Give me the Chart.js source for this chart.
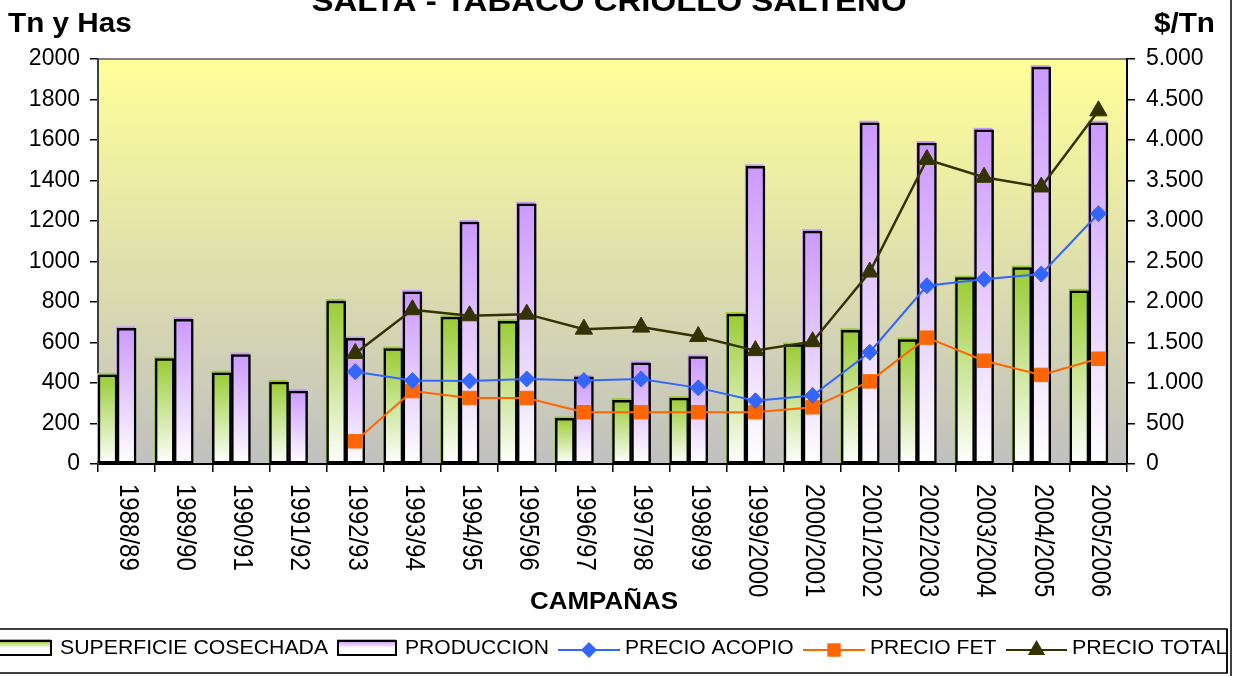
<!DOCTYPE html>
<html>
<head>
<meta charset="utf-8">
<script src="https://cdn.jsdelivr.net/npm/chart.js@4.4.1/dist/chart.umd.min.js"></script>
<style>
  html, body { margin: 0; padding: 0; background: #fff; overflow: hidden; }
  canvas { display: block; }
</style>
</head>
<body>
<canvas id="chart" width="1239" height="676"></canvas>
<script>
// datos
const campanas = ['1988/89', '1989/90', '1990/91', '1991/92', '1992/93', '1993/94', '1994/95', '1995/96',
  '1996/97', '1997/98', '1998/99', '1999/2000', '2000/2001', '2001/2002', '2002/2003', '2003/2004',
  '2004/2005', '2005/2006'];
const superficie = [440, 520, 450, 405, 805, 570, 725, 705, 225, 315, 325, 740, 590, 660, 615, 920, 970, 855];
const produccion = [670, 715, 540, 360, 620, 850, 1195, 1285, 430, 500, 530, 1470, 1150, 1685, 1585, 1650, 1960, 1685];
const precioAcopio = [null, null, null, null, 1140, 1030, 1025, 1050, 1030, 1050, 940, 780, 845, 1380, 2200, 2280, 2345, 3090];
const precioFet = [null, null, null, null, 280, 900, 815, 815, 640, 640, 640, 640, 700, 1020, 1560, 1275, 1100, 1300];
const precioTotal = [null, null, null, null, 1365, 1905, 1830, 1850, 1665, 1690, 1575, 1400, 1510, 2370, 3760, 3540, 3420, 4360];
// hueco vacio a la derecha de cada par de barras
const spacer = campanas.map(() => null);

const FONT = '"Liberation Sans", Arial, sans-serif';
const GREEN = '#99CC33', PURPLE = '#CC99FF', BLUE = '#3366FF', ORANGE = '#FF6600', OLIVE = '#333300';

function drawText(ctx, s, x, y, size, bold, align, sx) {
  ctx.save();
  ctx.font = (bold ? 'bold ' : '') + size + 'px ' + FONT;
  ctx.textAlign = align;
  ctx.textBaseline = 'alphabetic';
  ctx.fillStyle = '#000';
  ctx.translate(x, y);
  ctx.scale(sx, 1);
  ctx.fillText(s, 0, 0);
  ctx.restore();
}

function barGradient(top) {
  return (c) => {
    const chart = c.chart;
    const area = chart.chartArea;
    if (!area || c.raw == null) return top;
    const y = chart.scales.y.getPixelForValue(c.raw);
    const g = chart.ctx.createLinearGradient(0, y, 0, area.bottom);
    g.addColorStop(0, top);
    g.addColorStop(1, '#ffffff');
    return g;
  };
}

function marker(ctx, style, x, y, r, color) {
  ctx.fillStyle = color;
  ctx.beginPath();
  if (style === 'rectRot') {
    ctx.moveTo(x - r, y); ctx.lineTo(x, y - r); ctx.lineTo(x + r, y); ctx.lineTo(x, y + r);
  } else if (style === 'rect') {
    const s = r * Math.SQRT1_2;
    ctx.rect(x - s, y - s, 2 * s, 2 * s);
  } else {
    for (let k = 0; k < 3; k++) {
      const a = k * 2 * Math.PI / 3;
      ctx.lineTo(x + Math.sin(a) * r, y - Math.cos(a) * r);
    }
  }
  ctx.closePath();
  ctx.fill();
}

const decor = {
  id: 'decor',
  beforeDraw(chart) {
    const { ctx, chartArea: a } = chart;
    ctx.save();
    ctx.fillStyle = '#fff';
    ctx.fillRect(0, 0, chart.width, chart.height);
    const g = ctx.createLinearGradient(0, a.top, 0, a.bottom);
    g.addColorStop(0, '#FFFF99');
    g.addColorStop(1, '#C0C0C0');
    ctx.fillStyle = g;
    ctx.fillRect(a.left, a.top, a.right - a.left, a.bottom - a.top);
    ctx.strokeStyle = '#808080';
    ctx.lineWidth = 2;
    ctx.beginPath();
    ctx.moveTo(a.left, a.top);
    ctx.lineTo(a.right, a.top);
    ctx.stroke();
    ctx.restore();
  },
  beforeDatasetsDraw(chart) {
    // borde de color corrido arriba/izquierda de cada barra
    const ctx = chart.ctx;
    ctx.save();
    [[0, GREEN], [1, PURPLE]].forEach(([i, c]) => {
      chart.getDatasetMeta(i).data.forEach(el => {
        const p = el.getProps(['x', 'y', 'base', 'width'], true);
        if (p.y == null || isNaN(p.y)) return;
        ctx.fillStyle = c;
        ctx.fillRect(p.x - p.width / 2 - 1, p.y - 2, p.width, p.base - p.y);
      });
    });
    ctx.restore();
  },
  afterDraw(chart) {
    const ctx = chart.ctx;
    const xs = chart.scales.x;

    drawText(ctx, 'SALTA - TABACO CRIOLLO SALTEÑO', 609, 11, 30, true, 'center', 1.1);
    drawText(ctx, 'Tn y Has', 8, 32, 27, true, 'left', 1.1);
    drawText(ctx, '$/Tn', 1215, 32, 27, true, 'right', 1.1);

    // etiquetas de campañas, giradas
    campanas.forEach((lab, i) => {
      const x = xs.getPixelForValue(i);
      ctx.save();
      ctx.translate(x + 1, 484);
      ctx.scale(1.15, 1);
      ctx.rotate(Math.PI / 2);
      ctx.font = '24px ' + FONT;
      ctx.textAlign = 'left';
      ctx.textBaseline = 'middle';
      ctx.fillStyle = '#000';
      ctx.fillText(lab, 0, 0);
      ctx.restore();
    });
    drawText(ctx, 'CAMPAÑAS', 604, 609, 24, true, 'center', 1.08);

    // leyenda
    ctx.save();
    ctx.strokeStyle = '#000';
    ctx.lineWidth = 1.5;
    ctx.strokeRect(-5, 629, 1232, 44);
    ctx.beginPath();
    ctx.moveTo(1231, 0);
    ctx.lineTo(1231, 676);
    ctx.stroke();

    const barIcon = (x, color) => {
      ctx.fillStyle = color;
      ctx.fillRect(x - 1, 639, 59, 4);
      const g = ctx.createLinearGradient(0, 641, 0, 655);
      g.addColorStop(0, color);
      g.addColorStop(0.5, '#ffffff');
      g.addColorStop(1, '#ffffff');
      ctx.fillStyle = g;
      ctx.fillRect(x, 641, 58, 14);
      ctx.strokeStyle = '#000';
      ctx.lineWidth = 2;
      ctx.strokeRect(x, 641, 58, 14);
    };
    const lineIcon = (x0, x1, color, style, r) => {
      ctx.strokeStyle = color;
      ctx.lineWidth = 2;
      ctx.beginPath();
      ctx.moveTo(x0, 650);
      ctx.lineTo(x1, 650);
      ctx.stroke();
      marker(ctx, style, (x0 + x1) / 2, 650, r, color);
    };
    barIcon(-7, GREEN);
    drawText(ctx, 'SUPERFICIE COSECHADA', 60, 654, 19.5, false, 'left', 1.09);
    barIcon(338, PURPLE);
    drawText(ctx, 'PRODUCCION', 405, 654, 19.5, false, 'left', 1.08);
    lineIcon(558, 620, BLUE, 'rectRot', 8);
    drawText(ctx, 'PRECIO ACOPIO', 625, 654, 19.5, false, 'left', 1.08);
    lineIcon(803, 865, ORANGE, 'rect', 9.5);
    drawText(ctx, 'PRECIO FET', 870, 654, 19.5, false, 'left', 1.08);
    lineIcon(1006, 1067, OLIVE, 'triangle', 10);
    ctx.save();
    ctx.beginPath();
    ctx.rect(0, 629, 1226, 44);
    ctx.clip();
    drawText(ctx, 'PRECIO TOTAL', 1072, 654, 19.5, false, 'left', 1.1);
    ctx.restore();
    ctx.strokeStyle = '#000';
    ctx.lineWidth = 1.5;
    ctx.beginPath();
    ctx.moveTo(1227, 629);
    ctx.lineTo(1227, 673);
    ctx.stroke();
    ctx.restore();
  }
};

const thousands = v => String(v).replace(/\B(?=(\d{3})+(?!\d))/g, '.');

const ctx = document.getElementById('chart').getContext('2d');

new Chart(ctx, {
  type: 'bar',
  data: {
    labels: campanas,
    datasets: [
      {
        label: 'SUPERFICIE COSECHADA',
        data: superficie,
        backgroundColor: barGradient(GREEN),
        borderColor: '#000',
        borderWidth: 2.5,
        borderSkipped: false,
        yAxisID: 'y',
        order: 1
      },
      {
        label: 'PRODUCCION',
        data: produccion,
        backgroundColor: barGradient(PURPLE),
        borderColor: '#000',
        borderWidth: 2.5,
        borderSkipped: false,
        yAxisID: 'y',
        order: 1
      },
      {
        label: '',
        data: spacer,
        yAxisID: 'y',
        order: 1
      },
      {
        type: 'line',
        label: 'PRECIO ACOPIO',
        data: precioAcopio,
        borderColor: BLUE,
        backgroundColor: BLUE,
        borderWidth: 2,
        pointStyle: 'rectRot',
        pointRadius: 8,
        pointBorderWidth: 1,
        yAxisID: 'y1',
        order: 0
      },
      {
        type: 'line',
        label: 'PRECIO FET',
        data: precioFet,
        borderColor: ORANGE,
        backgroundColor: ORANGE,
        borderWidth: 2,
        pointStyle: 'rect',
        pointRadius: 9.5,
        pointBorderWidth: 1,
        yAxisID: 'y1',
        order: 0
      },
      {
        type: 'line',
        label: 'PRECIO TOTAL',
        data: precioTotal,
        borderColor: OLIVE,
        backgroundColor: OLIVE,
        borderWidth: 2.5,
        pointStyle: 'triangle',
        pointRadius: 10,
        pointBorderWidth: 1,
        yAxisID: 'y1',
        order: 0
      }
    ]
  },
  options: {
    responsive: false,
    devicePixelRatio: 1,
    animation: false,
    layout: { padding: { top: 59, left: 0, right: 0, bottom: 0 } },
    datasets: {
      bar: { categoryPercentage: 1, barPercentage: 1 }
    },
    plugins: {
      legend: { display: false },
      title: { display: false },
      tooltip: { enabled: false }
    },
    scales: {
      x: {
        ticks: { display: false },
        grid: { drawOnChartArea: false, drawTicks: true, tickLength: 8, tickColor: '#000', lineWidth: 1.5 },
        border: { color: '#000', width: 2 },
        afterFit: s => { s.height = 212; }
      },
      y: {
        position: 'left',
        min: 0,
        max: 2000,
        ticks: { stepSize: 200, color: '#000', padding: 10, font: { family: FONT, size: 23 }, callback: v => String(v) },
        grid: { drawOnChartArea: false, drawTicks: true, tickLength: 8, tickColor: '#000', lineWidth: 1.5 },
        border: { color: '#404040', width: 2 },
        afterFit: s => { s.width = 98; }
      },
      y1: {
        position: 'right',
        min: 0,
        max: 5000,
        ticks: { stepSize: 500, color: '#000', padding: 11, font: { family: FONT, size: 23 }, callback: v => thousands(v) },
        grid: { drawOnChartArea: false, drawTicks: true, tickLength: 8, tickColor: '#000', lineWidth: 1.5 },
        border: { color: '#000', width: 2 },
        afterFit: s => { s.width = 112; }
      }
    }
  },
  plugins: [decor]
});
</script>
</body>
</html>
